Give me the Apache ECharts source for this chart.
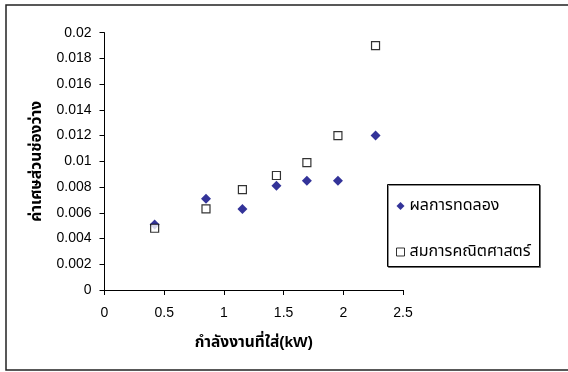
<!DOCTYPE html>
<html>
<head>
<meta charset="utf-8">
<script src="https://cdn.jsdelivr.net/npm/echarts@6/dist/echarts.min.js"></script>
<style>
  html, body { margin: 0; padding: 0; background: #fff; }
  #chart { width: 568px; height: 372px; }
</style>
</head>
<body>
<div id="chart"></div>
<script>
// Input power (kW) for each run
const power = [0.42, 0.85, 1.155, 1.44, 1.695, 1.955, 2.27];
// Measured void fraction
const measured = [0.0051, 0.0071, 0.0063, 0.0081, 0.0085, 0.0085, 0.0120];
// Void fraction from the model equation
const model = [0.0048, 0.0063, 0.0078, 0.0089, 0.0099, 0.0120, 0.0190];

const seriesNames = ['ผลการทดลอง', 'สมการคณิตศาสตร์'];
const xTitle = 'กำลังงานที่ใส่(kW)';
const yTitle = 'ค่าเศษส่วนช่องว่าง';

const font = 'Liberation Sans, Arial, "Noto Sans Thai", Loma, Garuda, "DejaVu Sans", sans-serif';

const chart = echarts.init(document.getElementById('chart'), null, { renderer: 'canvas' });

const axisCommon = {
  axisLine: { show: true, onZero: false, lineStyle: { color: '#000', width: 1 } },
  axisTick: { show: true, inside: false, length: 5, lineStyle: { color: '#000' } },
  splitLine: { show: false },
  axisLabel: { color: '#000', fontSize: 14, fontFamily: font }
};

const titleStyle = { color: '#000', fontSize: 15.5, fontWeight: 'bold', fontFamily: font };

chart.setOption({
  animation: false,
  backgroundColor: '#fff',
  textStyle: { fontFamily: font },
  grid: { left: 104.5, right: 165, top: 32.7, bottom: 82, containLabel: false },
  xAxis: Object.assign({}, axisCommon, {
    type: 'value', min: 0, max: 2.5, interval: 0.5,
    name: xTitle, nameLocation: 'middle', nameGap: 45,
    nameTextStyle: titleStyle,
    axisLabel: Object.assign({}, axisCommon.axisLabel, { margin: 16 })
  }),
  yAxis: Object.assign({}, axisCommon, {
    type: 'value', min: 0, max: 0.02, interval: 0.002,
    name: yTitle, nameLocation: 'middle', nameGap: 60, nameRotate: 90,
    nameTextStyle: titleStyle,
    axisLabel: Object.assign({}, axisCommon.axisLabel, {
      margin: 13,
      formatter: v => String(parseFloat(v.toFixed(3)))
    })
  }),
  legend: {
    orient: 'vertical',
    left: 387, top: 184,
    padding: [14, 4, 10, 9],
    itemGap: 30,
    itemWidth: 8, itemHeight: 8,
    z: 10,
    textStyle: { color: '#000', fontSize: 16, fontFamily: font },
    data: [
      { name: seriesNames[0], icon: 'diamond' },
      { name: seriesNames[1], icon: 'rect', itemStyle: { color: '#fff', borderColor: '#000', borderWidth: 1 } }
    ]
  },
  graphic: [
    {
      // chart area frame
      type: 'rect',
      shape: { x: 6, y: 5, width: 600, height: 365 },
      style: { fill: 'none', stroke: '#222', lineWidth: 1.5 },
      silent: true, z: 100
    },
    {
      // legend frame with a slight drop shadow
      type: 'rect',
      shape: { x: 387.5, y: 184.5, width: 152, height: 82 },
      style: {
        fill: '#fff', stroke: '#000', lineWidth: 1,
        shadowColor: 'rgba(0,0,0,0.45)', shadowOffsetX: 1, shadowOffsetY: 1, shadowBlur: 0
      },
      silent: true, z: 1
    }
  ],
  series: [
    {
      name: seriesNames[0], type: 'scatter', symbol: 'diamond', symbolSize: 10,
      itemStyle: { color: '#000080' },
      data: power.map((x, i) => [x, measured[i]])
    },
    {
      name: seriesNames[1], type: 'scatter', symbol: 'rect', symbolSize: 8,
      itemStyle: { color: '#fff', borderColor: '#000', borderWidth: 1.2 },
      data: power.map((x, i) => [x, model[i]])
    }
  ]
});
</script>
</body>
</html>
